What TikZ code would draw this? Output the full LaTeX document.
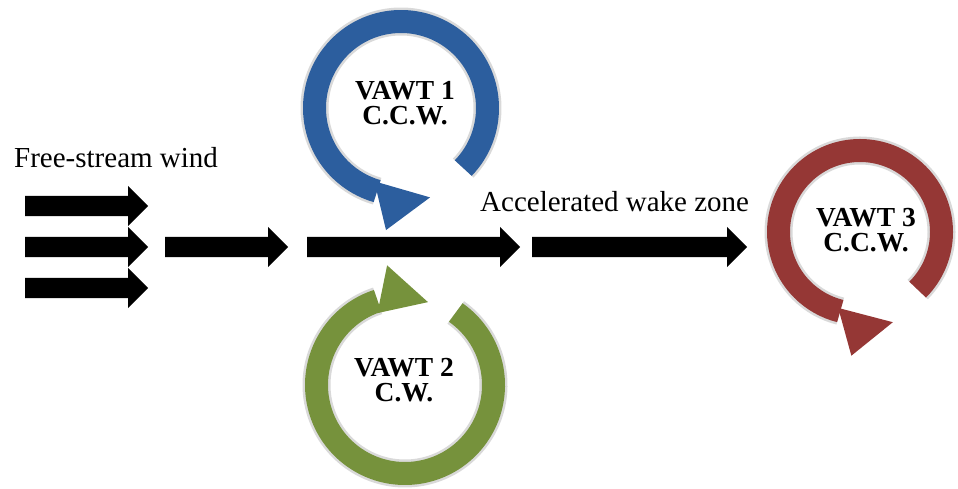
\documentclass[tikz,border=0pt]{standalone}
\usepackage{fontspec}
\setmainfont{Liberation Serif}
\usetikzlibrary{shapes.arrows}
\definecolor{vawtblue}{RGB}{44,94,158}
\definecolor{vawtgreen}{RGB}{118,146,60}
\definecolor{vawtred}{RGB}{149,55,53}
\tikzstyle{windarrow}=[single arrow,fill=black,anchor=tail,inner xsep=0pt,inner ysep=10pt,minimum width=40pt,single arrow head extend=10pt,single arrow tip angle=90,single arrow head indent=0pt]
\tikzstyle{ring}=[line width=23pt,preaction={draw,line width=28pt,opacity=0.15}]
\tikzstyle{windtext}=[font=\fontsize{29}{34}\selectfont,anchor=base west,inner sep=0pt]
\tikzstyle{vawt}=[font=\fontsize{27.5}{25}\selectfont\bfseries,align=center,anchor=base,inner sep=0pt]

\begin{document}
\begin{tikzpicture}[x=1pt,y=1pt]
    \useasboundingbox (0,0) rectangle (958,489);

    % wind arrows, free stream and wake
    \foreach \pos/\len/\name in {{(25,283)/123/f1},{(25,242)/123/f2},{(25,201)/123/f3},{(165,242)/123/g},{(307,242)/213/h},{(532,242)/215/k}}
        \node[windarrow,minimum height=\len pt] (\name) at \pos {};

    % turbine centres
    \coordinate (v1) at (401,381);
    \coordinate (v2) at (405,104);
    \coordinate (v3) at (860,257);

    % VAWT 1, counter clockwise
    \draw[ring,vawtblue] ([shift={(-44:86.5)}]v1) arc[start angle=-44,end angle=254,radius=86.5];
    \fill[vawtblue] ([shift={(250:78)}]v1) -- ([shift={(288:94)}]v1) -- ([shift={(263:123)}]v1) -- cycle;
    % VAWT 2, clockwise
    \draw[ring,vawtgreen] ([shift={(55:88.5)}]v2) arc[start angle=55,end angle=-252,radius=88.5];
    \fill[vawtgreen] ([shift={(111:77)}]v2) -- ([shift={(74.5:86)}]v2) -- ([shift={(98.5:121)}]v2) -- cycle;
    % VAWT 3, counter clockwise
    \draw[ring,vawtred] ([shift={(-45:81.5)}]v3) arc[start angle=-45,end angle=256,radius=81.5];
    \fill[vawtred] ([shift={(254:79)}]v3) -- ([shift={(290:96)}]v3) -- ([shift={(266:124)}]v3) -- cycle;

    \node[windtext] (free) at (14,321) {Free-stream wind};
    \node[windtext] (wake) at (480,277) {Accelerated wake zone};
    \node[vawt] (t1) at (405,364) {VAWT 1\\C.C.W.};
    \node[vawt] (t2) at (404,87) {VAWT 2\\C.W.};
    \node[vawt] (t3) at (866,237) {VAWT 3\\C.C.W.};
\end{tikzpicture}
\end{document}
